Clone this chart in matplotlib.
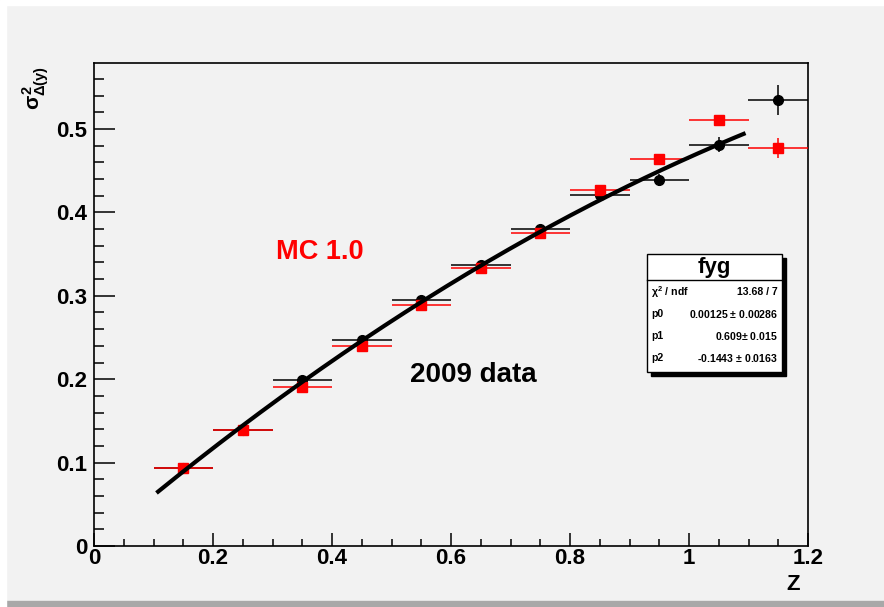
import numpy as np
import matplotlib
matplotlib.use("Agg")
import matplotlib.pyplot as plt
from matplotlib.patches import Rectangle
from matplotlib.ticker import MultipleLocator

plt.rcParams['font.family'] = ['Liberation Sans', 'DejaVu Sans']
plt.rcParams['mathtext.fontset'] = 'custom'
plt.rcParams['mathtext.rm'] = 'Liberation Sans:bold'
plt.rcParams['mathtext.it'] = 'Liberation Sans:bold'
plt.rcParams['mathtext.bf'] = 'Liberation Sans:bold'

# data
z = [0.15, 0.25, 0.35, 0.45, 0.55, 0.65, 0.75, 0.85, 0.95, 1.05, 1.15]
z_err = [0.05] * 11
data_2009 = [0.093, 0.139, 0.199, 0.247, 0.295, 0.337, 0.380, 0.421, 0.439, 0.481, 0.535]
data_err = [0.003, 0.003, 0.004, 0.004, 0.004, 0.004, 0.005, 0.006, 0.007, 0.009, 0.018]
mc = [0.0935, 0.139, 0.191, 0.240, 0.289, 0.333, 0.375, 0.427, 0.464, 0.511, 0.477]
mc_err = [0.002, 0.002, 0.002, 0.003, 0.003, 0.003, 0.003, 0.004, 0.005, 0.006, 0.012]

# fit parameters (fyg)
p0, p1, p2 = 0.00125, 0.609, -0.1443
fit_range = (0.105, 1.095)
stats_rows = [("$\\chi^{2}$ / ndf", "13.68 / 7"),
              ("p0", "0.00125 $\\pm$ 0.00286"),
              ("p1", "0.609$\\pm$ 0.015"),
              ("p2", "-0.1443 $\\pm$ 0.0163")]

W, H = 884, 607
fig = plt.figure(figsize=(W / 100, H / 100), dpi=100, facecolor='#f2f2f2')
# canvas border
fig.patches.append(Rectangle((0, 0), 1, 6 / H, transform=fig.transFigure, color='#a8a8a8', zorder=0))
fig.patches.append(Rectangle((0, 1 - 5 / H), 1, 5 / H, transform=fig.transFigure, color='white', zorder=0))
fig.patches.append(Rectangle((0, 0), 6 / W, 1, transform=fig.transFigure, color='white', zorder=0))

l, r, b, t = 94, 808, 546, 63
ax = fig.add_axes([l / W, (H - b) / H, (r - l) / W, (b - t) / H])
ax.set_facecolor('#f2f2f2')
ax.set_xlim(0, 1.2)
ax.set_ylim(0, (b - t) / 834)
for s in ax.spines.values():
    s.set_linewidth(1.2)

ax.xaxis.set_major_locator(MultipleLocator(0.2))
ax.xaxis.set_minor_locator(MultipleLocator(0.05))
ax.yaxis.set_major_locator(MultipleLocator(0.1))
ax.yaxis.set_minor_locator(MultipleLocator(0.02))
ax.tick_params(which='both', direction='in', top=False, right=False, labelsize=16, width=1.1)
ax.tick_params(axis='x', which='major', length=9.5, pad=1.5)
ax.tick_params(axis='x', which='minor', length=5)
ax.tick_params(axis='y', which='major', length=15, pad=5)
ax.tick_params(axis='y', which='minor', length=7.5)
ax.set_xticks([0, 0.2, 0.4, 0.6, 0.8, 1.0, 1.2])
ax.set_xticklabels(['0', '0.2', '0.4', '0.6', '0.8', '1', '1.2'], fontweight='bold')
ax.set_yticks([0, 0.1, 0.2, 0.3, 0.4, 0.5])
ax.set_yticklabels(['0', '0.1', '0.2', '0.3', '0.4', '0.5'], fontweight='bold')

ax.errorbar(z, data_2009, xerr=z_err, yerr=data_err, fmt='o', color='black',
            ms=7, elinewidth=1.1, capsize=0, zorder=3)
ax.errorbar(z, mc, xerr=z_err, yerr=mc_err, fmt='s', color='red',
            ms=7.5, elinewidth=1.1, capsize=0, zorder=4)

xf = np.linspace(fit_range[0], fit_range[1], 200)
ax.plot(xf, p0 + p1 * xf + p2 * xf ** 2, color='black', lw=3, zorder=5, solid_capstyle='butt')

ax.text(0.38, 0.3525, 'MC 1.0', color='red', fontsize=19.5, fontweight='bold',
        ha='center', va='center')
ax.text(0.637, 0.205, '2009 data', color='black', fontsize=20, fontweight='bold',
        ha='center', va='center')

fig.text(793 / W, 1 - 584 / H, 'Z', fontsize=16, fontweight='bold', ha='center', va='center')
fig.text(36 / W, 1 - 88 / H, '$\\sigma^{2}_{\\Delta(y)}$', fontsize=15, rotation=90,
         ha='center', va='center')

# stats box
bx0, by0, bx1, by1 = 647, 254, 782, 372
def fx(px):
    return px / W
def fy(py):
    return 1 - py / H
sh = 4
fig.patches.append(Rectangle((fx(bx0 + sh), fy(by1 + sh)), (bx1 - bx0) / W, (by1 - by0) / H,
                             transform=fig.transFigure, facecolor='black', edgecolor='black', zorder=6))
fig.patches.append(Rectangle((fx(bx0), fy(by1)), (bx1 - bx0) / W, (by1 - by0) / H,
                             transform=fig.transFigure, facecolor='white', edgecolor='black', lw=1, zorder=7))
fig.lines.append(plt.Line2D([fx(bx0), fx(bx1)], [fy(280), fy(280)], transform=fig.transFigure,
                            color='black', lw=1, zorder=8))
fig.text(fx((bx0 + bx1) / 2), fy(267), 'fyg', fontsize=16, fontweight='bold', ha='center', va='center', zorder=9)
row_y = [292, 314, 336, 358]
for (lab, val), ry in zip(stats_rows, row_y):
    fig.text(fx(bx0 + 4), fy(ry), lab, fontsize=7.6, fontweight='bold', ha='left', va='center', zorder=9)
    fig.text(fx(bx1 - 4), fy(ry), val, fontsize=7.6, fontweight='bold', ha='right', va='center', zorder=9)

fig.savefig('out.png', dpi=100, facecolor=fig.get_facecolor())
